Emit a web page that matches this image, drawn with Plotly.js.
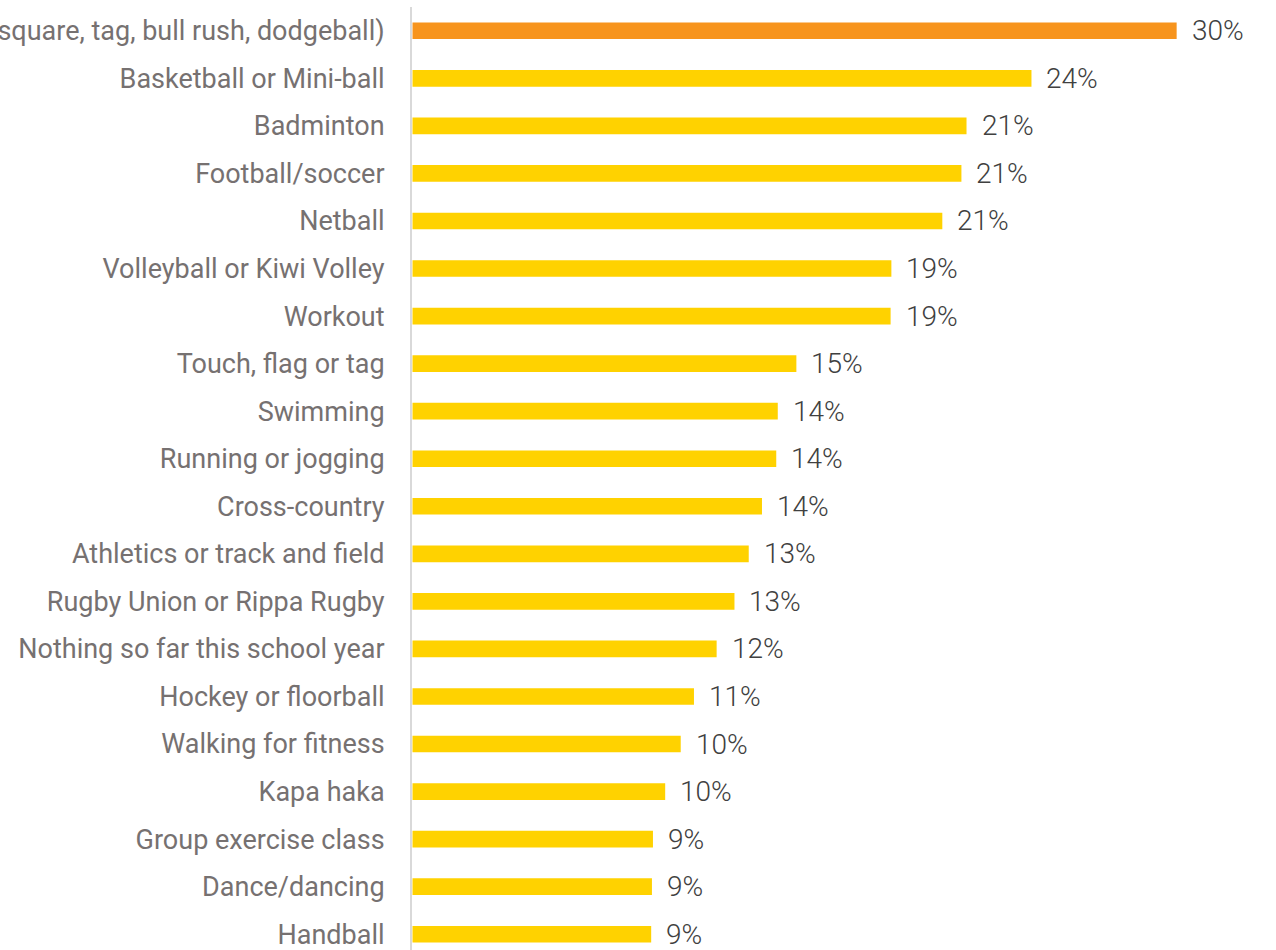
<!DOCTYPE html>
<html>
<head>
<meta charset="utf-8">
<script src="https://cdn.plot.ly/plotly-3.0.1.min.js"></script>
<style>
  html, body { margin: 0; padding: 0; background: #ffffff; overflow: hidden; }
  #chart { width: 1276px; height: 950px; }
</style>
</head>
<body>
<div id="chart"></div>
<script>
// Categories, top to bottom
const categories = [
  "Playground games (e.g. four square, tag, bull rush, dodgeball)",
  "Basketball or Mini-ball",
  "Badminton",
  "Football/soccer",
  "Netball",
  "Volleyball or Kiwi Volley",
  "Workout",
  "Touch, flag or tag",
  "Swimming",
  "Running or jogging",
  "Cross-country",
  "Athletics or track and field",
  "Rugby Union or Rippa Rugby",
  "Nothing so far this school year",
  "Hockey or floorball",
  "Walking for fitness",
  "Kapa haka",
  "Group exercise class",
  "Dance/dancing",
  "Handball"
];

// Bar lengths (percent)
const values = [30.0, 24.3, 21.75, 21.55, 20.8, 18.8, 18.77, 15.07, 14.34, 14.28,
                13.72, 13.2, 12.64, 11.94, 11.05, 10.53, 9.92, 9.44, 9.4, 9.37];

// Data labels as printed
const labels = ["30%", "24%", "21%", "21%", "21%", "19%", "19%", "15%", "14%", "14%",
                "14%", "13%", "13%", "12%", "11%", "10%", "10%", "9%", "9%", "9%"];

const highlightColor = "#F7941D";
const barColor = "#FFD200";

const colors = categories.map((c, i) => i === 0 ? highlightColor : barColor);

const trace = {
  type: "bar",
  orientation: "h",
  x: values,
  y: categories,
  marker: { color: colors, line: { width: 0 } },
  hoverinfo: "none",
  cliponaxis: false
};

const annotations = categories.map((c, i) => ({
  x: values[i],
  y: c,
  xref: "x",
  yref: "y",
  text: labels[i],
  showarrow: false,
  xanchor: "left",
  yanchor: "middle",
  xshift: 13,
  font: { family: "Roboto, sans-serif", size: 28, weight: 300, color: "#404040" }
}));

const layout = {
  width: 1276,
  height: 950,
  margin: { l: 412, r: 0, t: 7, b: 0, pad: 0 },
  paper_bgcolor: "#ffffff",
  plot_bgcolor: "#ffffff",
  showlegend: false,
  bargap: 0.65,
  xaxis: {
    range: [-0.02, 33.9],
    showgrid: false,
    zeroline: false,
    showline: false,
    showticklabels: false,
    ticks: "",
    fixedrange: true
  },
  yaxis: {
    type: "category",
    range: [19.332, -0.5],
    automargin: false,
    showgrid: false,
    zeroline: false,
    showline: true,
    linecolor: "#d9d9d9",
    linewidth: 2,
    ticks: "",
    ticklabelstandoff: 20,
    tickfont: { family: "Roboto, sans-serif", size: 27, color: "#767171" },
    fixedrange: true
  },
  annotations: annotations
};

Plotly.newPlot("chart", [trace], layout, { displayModeBar: false, staticPlot: true });
</script>
</body>
</html>
